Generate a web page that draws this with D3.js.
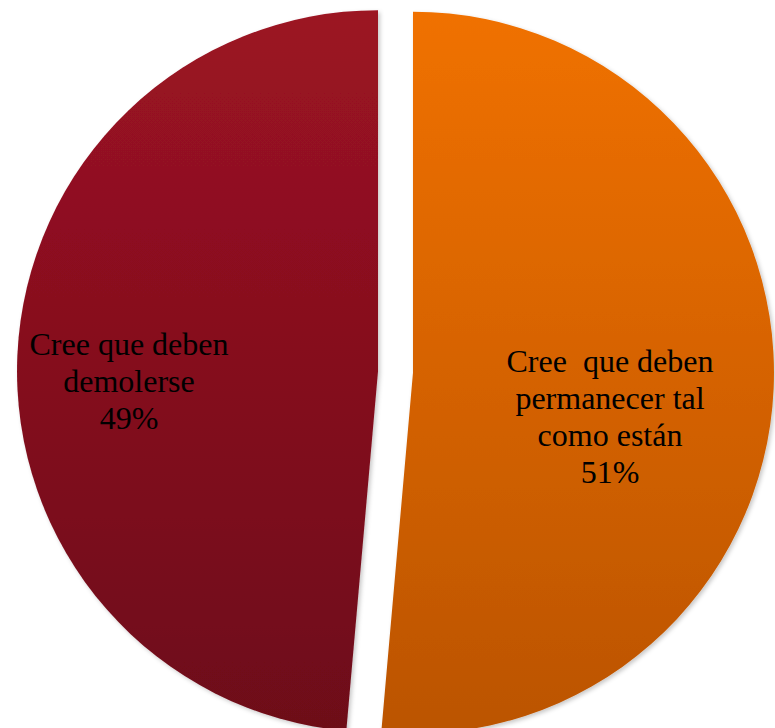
<!DOCTYPE html>
<html>
<head>
<meta charset="utf-8">
<script src="https://cdn.jsdelivr.net/npm/d3@7/dist/d3.min.js"></script>
<style>
html,body{margin:0;padding:0;background:#fff;}
svg{display:block;}
text{white-space:pre;}
</style>
</head>
<body>
<script>
// Data
const categories = ["Cree  que deben permanecer tal como están", "Cree que deben demolerse"];
const labelLines = [["Cree  que deben", "permanecer tal", "como están"], ["Cree que deben", "demolerse"]];
const values = [51.4, 48.6];
const topColors = ["#f07100", "#9c1323"];
const bottomColors = ["#bb5400", "#6d0a19"];

const W = 775, H = 728;
const cx = 395.5, cy = 372, R = 361, explode = 17.5;

const svg = d3.select("body").append("svg").attr("width", W).attr("height", H);
const defs = svg.append("defs");

values.forEach((v, i) => {
  const g = defs.append("linearGradient")
    .attr("id", "grad" + i)
    .attr("gradientUnits", "userSpaceOnUse")
    .attr("x1", 0).attr("y1", -R).attr("x2", 0).attr("y2", R);
  g.append("stop").attr("offset", "0%").attr("stop-color", topColors[i]);
  g.append("stop").attr("offset", "100%").attr("stop-color", bottomColors[i]);
});

const f = defs.append("filter").attr("id", "shadow")
  .attr("x", "-10%").attr("y", "-10%").attr("width", "120%").attr("height", "120%");
f.append("feDropShadow").attr("dx", 2).attr("dy", 2).attr("stdDeviation", 2)
  .attr("flood-color", "#000").attr("flood-opacity", 0.22);

const pie = d3.pie().sort(null).value(d => d);
const arcs = pie(values);
const arc = d3.arc().innerRadius(0).outerRadius(R);
const total = d3.sum(values);

const g = svg.append("g").attr("transform", `translate(${cx},${cy})`);

const slices = g.selectAll("g.slice").data(arcs).enter().append("g")
  .attr("class", "slice")
  .attr("transform", d => {
    const a = (d.startAngle + d.endAngle) / 2;
    return `translate(${explode * Math.sin(a)},${-explode * Math.cos(a)})`;
  });

slices.append("path")
  .attr("d", arc)
  .attr("fill", (d, i) => `url(#grad${i})`)
  .attr("filter", "url(#shadow)");

// Labels (positions in page coordinates)
const labelAnchor = [[610, 372], [129, 355]];
const fontSize = 32, lineH = 37;
slices.each(function(d, i) {
  const pct = Math.round(d.data / total * 100) + "%";
  const lines = labelLines[i].concat([pct]);
  const t = d3.select(this).append("text")
    .attr("text-anchor", "middle")
    .style("font-family", "'Liberation Serif', 'Times New Roman', serif")
    .attr("font-size", fontSize)
    .attr("fill", "#000")
    .attr("xml:space", "preserve");
  lines.forEach((ln, k) => {
    t.append("tspan").attr("x", 0).attr("y", k * lineH).text(ln);
  });
  const a = (d.startAngle + d.endAngle) / 2;
  const ox = explode * Math.sin(a), oy = -explode * Math.cos(a);
  t.attr("transform", `translate(${labelAnchor[i][0] - cx - ox},${labelAnchor[i][1] - cy - oy})`);
});
</script>
</body>
</html>
